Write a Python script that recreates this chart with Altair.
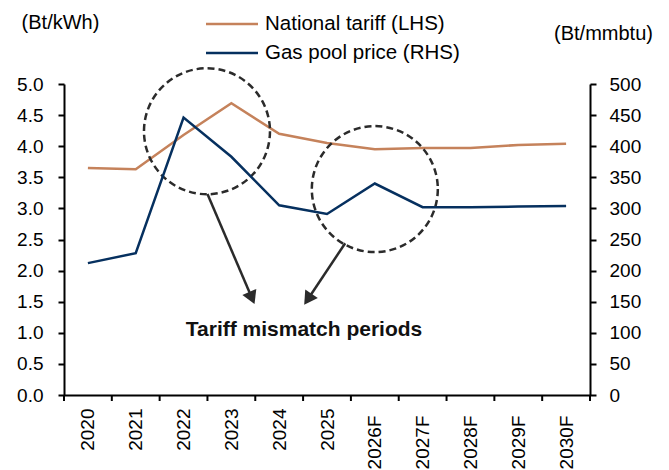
import json
import altair as alt
import pandas as pd

# ---- data ----
years = ["2020", "2021", "2022", "2023", "2024", "2025",
         "2026F", "2027F", "2028F", "2029F", "2030F"]
tariff = [3.65, 3.63, 4.18, 4.69, 4.20, 4.05, 3.95, 3.97, 3.97, 4.02, 4.04]   # Bt/kWh (LHS)
gas = [212, 228, 446, 383, 305, 291, 340, 302, 302, 303, 304]                # Bt/mmbtu (RHS)

series_names = ["National tariff (LHS)", "Gas pool price (RHS)"]
series_colors = ["#C5825B", "#06305F"]

left_ticks = [0, 0.5, 1, 1.5, 2, 2.5, 3, 3.5, 4, 4.5, 5]
right_ticks = [0, 50, 100, 150, 200, 250, 300, 350, 400, 450, 500]

# annotation geometry (x in category-slot units, y in LHS units)
circle_x = [2.99, 6.50]
circle_y = [4.24, 3.31]
arrow_x = [3.00, 5.88]
arrow_y = [3.23, 2.44]
arrow_x2 = [3.93, 5.10]
arrow_y2 = [1.56, 1.54]
arrow_angle = [337, 34]
note_text = ["Tariff mismatch periods"]
note_x = [5.02]
note_y = [1.045]

FONT = "Liberation Sans"
W, H = 526, 311
n = len(years)

df = pd.DataFrame({
    "year": years,
    "pos": [i + 0.5 for i in range(n)],
    "tariff": tariff,
    "gas": gas,
})
bounds = pd.DataFrame({"b": list(range(n + 1))})
circles = pd.DataFrame({"x": circle_x, "y": circle_y})
arrows = pd.DataFrame({"x": arrow_x, "y": arrow_y, "x2": arrow_x2, "y2": arrow_y2,
                       "angle": arrow_angle})
notes = pd.DataFrame({"x": note_x, "y": note_y, "t": note_text})
legend_df = pd.DataFrame({"name": series_names, "color": series_colors})

label_expr = json.dumps(years) + "[round(datum.value - 0.5)]"

xscale = alt.Scale(domain=[0, n], nice=False, zero=False)
x_axis = alt.Axis(
    values=[i + 0.5 for i in range(n)], labelExpr=label_expr, ticks=False,
    grid=False, labelAngle=-90, labelFontSize=19, labelFont=FONT, labelColor="black",
    labelPadding={"condition": {"test": "datum.value > 6", "value": 20}, "value": 13},
    domainColor="black", domainWidth=2, title=None, labelOverlap=False,
)
yL = alt.Scale(domain=[0, 5], nice=False)
yL_axis = alt.Axis(
    values=left_ticks, format=".1f", orient="left", grid=False, labelOverlap=False,
    labelFontSize=19, labelFont=FONT, labelColor="black", labelPadding=15,
    tickSize=6, tickWidth=2, tickColor="black", domainColor="black", domainWidth=2,
    title="(Bt/kWh)", titleAngle=0, titleFont=FONT, titleFontSize=20,
    titleFontWeight="normal", titleColor="black", titleAlign="center",
    titleBaseline="middle", titleX=-4, titleY=-62)


def X(field):
    return alt.X(field, scale=xscale, axis=x_axis)


def YL(field):
    return alt.Y(field, scale=yL, axis=yL_axis)


tariff_line = alt.Chart(df).mark_line(strokeWidth=2.5, color=series_colors[0]).encode(
    x=X("pos:Q"), y=YL("tariff:Q"))

xticks = alt.Chart(bounds).mark_rule(color="black", strokeWidth=2).encode(
    x=X("b:Q"), y=alt.value(H), y2=alt.value(H + 6))

circle_layer = alt.Chart(circles).mark_point(
    shape="circle", size=15876, filled=False, strokeDash=[7, 4], strokeWidth=2.5,
    color="#2b2b2b", opacity=1).encode(x=X("x:Q"), y=YL("y:Q"))

arrow_lines = alt.Chart(arrows).mark_rule(strokeWidth=2.5, color="#2b2b2b").encode(
    x=X("x:Q"), y=YL("y:Q"), x2="x2:Q", y2="y2:Q")

arrow_heads = alt.Chart(arrows).mark_point(
    shape="triangle-down", filled=True, size=230, color="#2b2b2b", opacity=1).encode(
    x=X("x2:Q"), y=YL("y2:Q"), angle=alt.Angle("angle:Q", scale=None))

note_layer = alt.Chart(notes).mark_text(
    font=FONT, fontSize=21, fontWeight="bold", color="#111111",
    align="center", baseline="middle").encode(
    x=X("x:Q"), y=YL("y:Q"), text="t:N")

legend_rules = []
for i in range(len(series_names)):
    sub = legend_df.iloc[[i]]
    yy = -60 + 29 * i
    legend_rules.append(alt.Chart(sub).mark_rule(strokeWidth=2.5, color=series_colors[i]).encode(
        x=alt.value(142), x2=alt.value(194), y=alt.value(yy)))
    legend_rules.append(alt.Chart(sub).mark_text(
        font=FONT, fontSize=20.5, align="left", baseline="middle", color="black").encode(
        x=alt.value(201), y=alt.value(yy), text="name:N"))

left_group = alt.layer(tariff_line, xticks, circle_layer, arrow_lines, arrow_heads,
                       note_layer, *legend_rules)

gas_line = alt.Chart(df).mark_line(strokeWidth=2.5, color=series_colors[1]).encode(
    x=X("pos:Q"),
    y=alt.Y("gas:Q", scale=alt.Scale(domain=[0, 500], nice=False), axis=alt.Axis(
        values=right_ticks, orient="right", grid=False, labelOverlap=False,
        labelFontSize=19, labelFont=FONT, labelColor="black", labelPadding=13,
        tickSize=6, tickWidth=2, tickColor="black", domainColor="black", domainWidth=2,
        title="(Bt/mmbtu)", titleAngle=0, titleFont=FONT, titleFontSize=20,
        titleFontWeight="normal", titleColor="black", titleAlign="center",
        titleBaseline="middle", titleX=13, titleY=-51)),
)

chart = alt.layer(left_group, gas_line).resolve_scale(y="independent").properties(
    width=W, height=H,
    autosize=alt.AutoSizeParams(type="none"),
    padding={"left": 56, "top": 76, "right": 71, "bottom": 75},
    background="white",
).configure_view(stroke=None)

chart.save("out.html", embed_options={"renderer": "svg", "actions": False})
